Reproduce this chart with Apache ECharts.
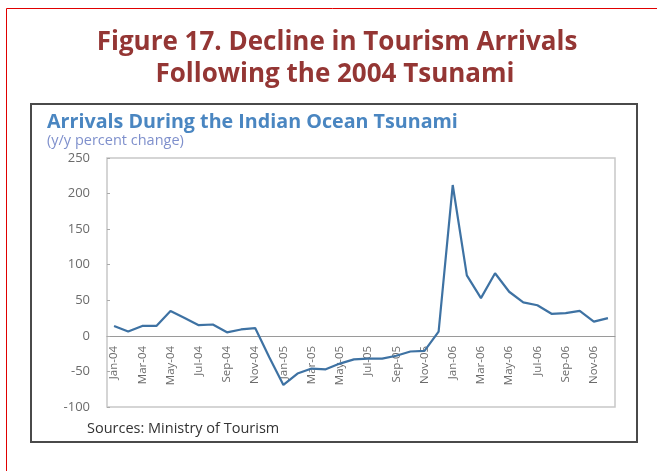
<!DOCTYPE html>
<html>
<head>
<meta charset="utf-8">
<script src="https://cdn.jsdelivr.net/npm/echarts@6/dist/echarts.min.js"></script>
<style>
  html, body { margin: 0; padding: 0; background: #fff; }
  #chart { width: 657px; height: 471px; }
</style>
</head>
<body>
<div id="chart"></div>
<script>
const months = [
  "Jan-04", "Feb-04", "Mar-04", "Apr-04", "May-04", "Jun-04", "Jul-04", "Aug-04", "Sep-04", "Oct-04", "Nov-04", "Dec-04",
  "Jan-05", "Feb-05", "Mar-05", "Apr-05", "May-05", "Jun-05", "Jul-05", "Aug-05", "Sep-05", "Oct-05", "Nov-05", "Dec-05",
  "Jan-06", "Feb-06", "Mar-06", "Apr-06", "May-06", "Jun-06", "Jul-06", "Aug-06", "Sep-06", "Oct-06", "Nov-06", "Dec-06"
];
// y/y percent change in arrivals
const arrivals = [
  14, 6, 14, 14, 35, 25, 15, 16, 5, 9, 11, -30,
  -69, -53, -46, -47, -39, -33, -32, -32, -28, -22, -21, 6,
  212, 85, 53, 88, 62, 47, 43, 31, 32, 35, 20, 25
];
const yTicks = { min: -100, max: 250, step: 50 };

// plot box in pixels; the x axis sits on the zero line, so shift it up from the bottom edge
const plotTop = 158, plotBottom = 407;
const zeroOffset = (plotBottom - plotTop) * (0 - yTicks.min) / (yTicks.max - yTicks.min);

const chart = echarts.init(document.getElementById("chart"));
chart.setOption({
  animation: false,
  backgroundColor: "#fff",
  graphic: [
    { type: "rect", shape: { x: 6.5, y: 8.5, width: 700, height: 500 }, style: { fill: "none", stroke: "#e00000", lineWidth: 1 } },
    { type: "rect", shape: { x: 31, y: 104, width: 606, height: 338 }, style: { fill: "none", stroke: "#4a4a4a", lineWidth: 2 } },
    { type: "text", x: 337, y: 43, style: { text: "Figure 17. Decline in Tourism Arrivals", fill: "#943634", font: "bold 26px 'Open Sans'", textAlign: "center", textVerticalAlign: "middle" } },
    { type: "text", x: 335, y: 75, style: { text: "Following the 2004 Tsunami", fill: "#943634", font: "bold 26px 'Open Sans'", textAlign: "center", textVerticalAlign: "middle" } },
    { type: "text", x: 47, y: 122, style: { text: "Arrivals During the Indian Ocean Tsunami", fill: "#4a86c1", font: "bold 19.7px 'Open Sans'", textVerticalAlign: "middle" } },
    { type: "text", x: 47, y: 141, style: { text: "(y/y percent change)", fill: "#7f90cc", font: "14.5px 'Open Sans'", textVerticalAlign: "middle" } },
    { type: "text", x: 87, y: 429, style: { text: "Sources: Ministry of Tourism", fill: "#333", font: "14.5px 'Open Sans'", textVerticalAlign: "middle" } }
  ],
  grid: { left: 107, top: plotTop, right: 42, bottom: 471 - plotBottom, show: true, borderColor: "#c8c8c8", borderWidth: 1.5 },
  xAxis: {
    type: "category",
    data: months,
    boundaryGap: true,
    position: "bottom",
    offset: -zeroOffset,
    axisLine: { onZero: false, lineStyle: { color: "#9a9a9a", width: 1 } },
    axisTick: { inside: true, length: 3, interval: 1, lineStyle: { color: "#aaa" } },
    axisLabel: { interval: 1, rotate: 90, margin: 10, color: "#6b6b6b", fontSize: 11.5, fontFamily: "'Open Sans'" }
  },
  yAxis: {
    type: "value",
    min: yTicks.min,
    max: yTicks.max,
    interval: yTicks.step,
    axisLine: { show: false },
    axisTick: { show: true, inside: true, length: 3, lineStyle: { color: "#aaa" } },
    splitLine: { show: false },
    axisLabel: { margin: 17, color: "#6b6b6b", fontSize: 13, fontFamily: "'Open Sans'" }
  },
  series: [{
    type: "line",
    data: arrivals,
    showSymbol: false,
    lineStyle: { color: "#3e72a3", width: 2.2 },
    itemStyle: { color: "#3e72a3" }
  }]
});
</script>
</body>
</html>
